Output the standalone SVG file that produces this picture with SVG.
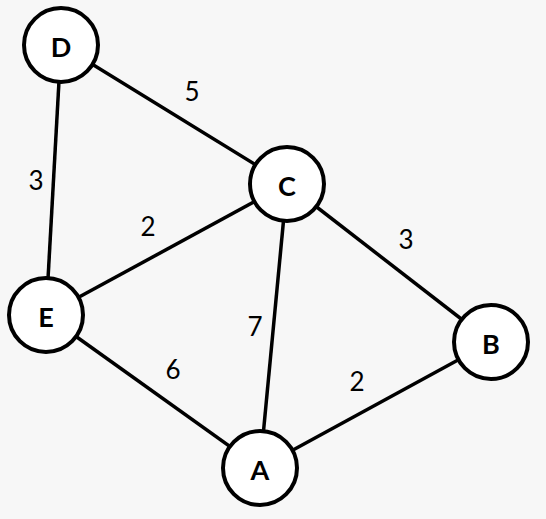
<svg xmlns="http://www.w3.org/2000/svg" width="546" height="519" viewBox="0 0 546 519">
<style>
.edge{stroke:#000;stroke-width:3.5;fill:none}
.node circle{fill:#fff;stroke:#000;stroke-width:4}
.node text{font-family:Lato,"Open Sans",sans-serif;font-weight:bold;font-size:27px;text-anchor:middle;dominant-baseline:central;fill:#000}
.w{font-family:Lato,"Open Sans",sans-serif;font-size:26px;text-anchor:middle;dominant-baseline:central;fill:#000}
</style>
<rect width="546" height="519" fill="#f7f7f7"/>
<g id="edges">
<line class="edge" x1="61" y1="45" x2="287" y2="184"/>
<line class="edge" x1="61" y1="45" x2="46" y2="315"/>
<line class="edge" x1="287" y1="184" x2="46" y2="315"/>
<line class="edge" x1="287" y1="184" x2="260" y2="468"/>
<line class="edge" x1="287" y1="184" x2="491" y2="342"/>
<line class="edge" x1="46" y1="315" x2="260" y2="468"/>
<line class="edge" x1="260" y1="468" x2="491" y2="342"/>
<text class="w" x="192" y="91">5</text>
<text class="w" x="36" y="180">3</text>
<text class="w" x="148" y="226">2</text>
<text class="w" x="406" y="239">3</text>
<text class="w" x="255" y="326">7</text>
<text class="w" x="173" y="369">6</text>
<text class="w" x="357" y="381">2</text>
</g>
<g id="D" class="node"><circle cx="61" cy="45" r="37"/><text x="61" y="46">D</text></g>
<g id="C" class="node"><circle cx="287" cy="184" r="37"/><text x="287" y="185">C</text></g>
<g id="E" class="node"><circle cx="46" cy="315" r="37"/><text x="46" y="316">E</text></g>
<g id="B" class="node"><circle cx="491" cy="342" r="37"/><text x="491" y="343">B</text></g>
<g id="A" class="node"><circle cx="260" cy="468" r="37"/><text x="260" y="469">A</text></g>
</svg>
